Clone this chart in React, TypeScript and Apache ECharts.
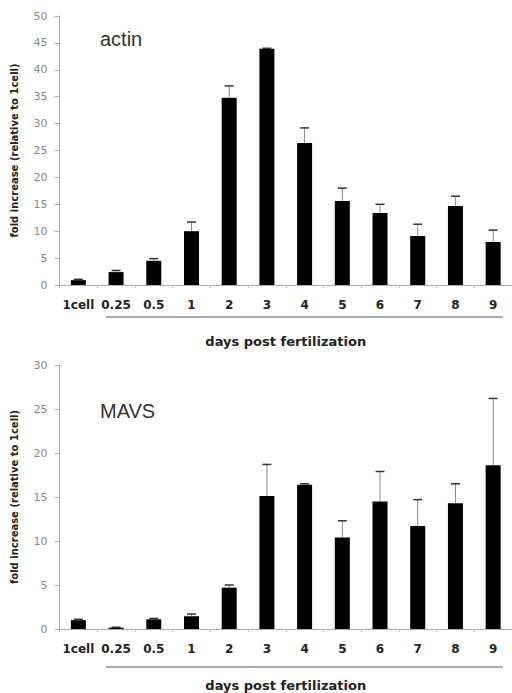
import React, { useEffect, useRef } from "react";
import * as echarts from "echarts";

const categories = ["1cell", "0.25", "0.5", "1", "2", "3", "4", "5", "6", "7", "8", "9"];
const actinMean = [0.9, 2.4, 4.5, 10.0, 34.8, 43.9, 26.4, 15.6, 13.4, 9.1, 14.7, 8.0];
const actinErr = [0.15, 0.3, 0.4, 1.7, 2.2, 0.1, 2.8, 2.4, 1.6, 2.2, 1.8, 2.2];
const mavsMean = [1.0, 0.15, 1.1, 1.45, 4.7, 15.1, 16.4, 10.4, 14.5, 11.7, 14.3, 18.6];
const mavsErr = [0.1, 0.05, 0.1, 0.25, 0.3, 3.6, 0.1, 1.9, 3.4, 3.0, 2.2, 7.6];
const actinTicks = { min: 0, max: 50, interval: 5 };
const mavsTicks = { min: 0, max: 30, interval: 5 };
const panelTitles = ["actin", "MAVS"];
const xTitle = "days post fertilization";
const yTitle = "fold increase (relative to 1cell)";

const labelFont = "DejaVu Sans";

function errRender(params: any, api: any) {
  const x = api.value(0);
  const m = api.value(1);
  const e = api.value(2);
  const p0 = api.coord([x, m]);
  const p1 = api.coord([x, m + e]);
  return {
    type: "group",
    children: [
      { type: "line", shape: { x1: p0[0], y1: p0[1], x2: p1[0], y2: p1[1] }, style: { stroke: "#888", lineWidth: 1 } },
      { type: "line", shape: { x1: p1[0] - 4.5, y1: p1[1], x2: p1[0] + 4.5, y2: p1[1] }, style: { stroke: "#333", lineWidth: 1.5 } },
    ],
  };
}

export default function App() {
  const ref = useRef<HTMLDivElement>(null);
  useEffect(() => {
    if (!ref.current) return;
    const chart = echarts.init(ref.current, null, { renderer: "svg" });
    const grids = [
      { left: 59.5, right: 0, top: 16, height: 269 },
      { left: 59.5, right: 0, top: 365, height: 268.5 },
    ];
    const xAxisCommon = (gi: number) => ({
      type: "category",
      gridIndex: gi,
      data: categories,
      axisLine: { lineStyle: { color: "#aaa", width: 1 } },
      axisTick: { show: true, length: 3, lineStyle: { color: "#bbb" } },
      axisLabel: { interval: 0, margin: 14, fontFamily: labelFont, fontSize: 12, fontWeight: "bold", color: "#222" },
      name: xTitle,
      nameLocation: "middle",
      nameGap: 50,
      nameTextStyle: { fontFamily: labelFont, fontSize: 13, fontWeight: "bold", color: "#222" },
    });
    const yAxisCommon = (gi: number, t: any) => ({
      type: "value",
      gridIndex: gi,
      min: t.min,
      max: t.max,
      interval: t.interval,
      splitLine: { show: false },
      axisLine: { show: true, lineStyle: { color: "#aaa", width: 1 } },
      axisTick: { show: true, length: 5, lineStyle: { color: "#aaa" } },
      axisLabel: { margin: 12, fontFamily: labelFont, fontSize: 11, color: "#888" },
      name: yTitle,
      nameLocation: "middle",
      nameGap: 40,
      nameTextStyle: { fontFamily: labelFont, fontSize: 10, fontWeight: "bold", color: "#222" },
    });
    const bar = (gi: number, data: number[]) => ({
      type: "bar",
      xAxisIndex: gi,
      yAxisIndex: gi,
      data,
      barWidth: 15,
      itemStyle: { color: "#000" },
      silent: true,
    });
    const err = (gi: number, mean: number[], e: number[]) => ({
      type: "custom",
      xAxisIndex: gi,
      yAxisIndex: gi,
      data: mean.map((m, i) => [i, m, e[i]]),
      encode: { x: 0, y: 1 },
      renderItem: errRender,
      z: 5,
      silent: true,
    });
    chart.setOption({
      animation: false,
      backgroundColor: "#fff",
      title: [
        { text: panelTitles[0], left: 95, top: 24, textStyle: { fontFamily: "Liberation Sans", fontSize: 20, fontWeight: "normal", color: "#333" } },
        { text: panelTitles[1], left: 95, top: 396, textStyle: { fontFamily: "Liberation Sans", fontSize: 20, fontWeight: "normal", color: "#333" } },
      ],
      grid: grids,
      xAxis: [xAxisCommon(0), xAxisCommon(1)],
      yAxis: [yAxisCommon(0, actinTicks), yAxisCommon(1, mavsTicks)],
      series: [bar(0, actinMean), err(0, actinMean, actinErr), bar(1, mavsMean), err(1, mavsMean, mavsErr)],
      graphic: [
        { type: "line", shape: { x1: 106, y1: 317, x2: 503, y2: 317 }, style: { stroke: "#555", lineWidth: 1.2 } },
        { type: "line", shape: { x1: 106, y1: 667, x2: 503, y2: 667 }, style: { stroke: "#555", lineWidth: 1.2 } },
      ],
    });
    return () => chart.dispose();
  }, []);
  return <div ref={ref} style={{ position: "fixed", left: 0, top: 0, width: 512, height: 693 }} />;
}
